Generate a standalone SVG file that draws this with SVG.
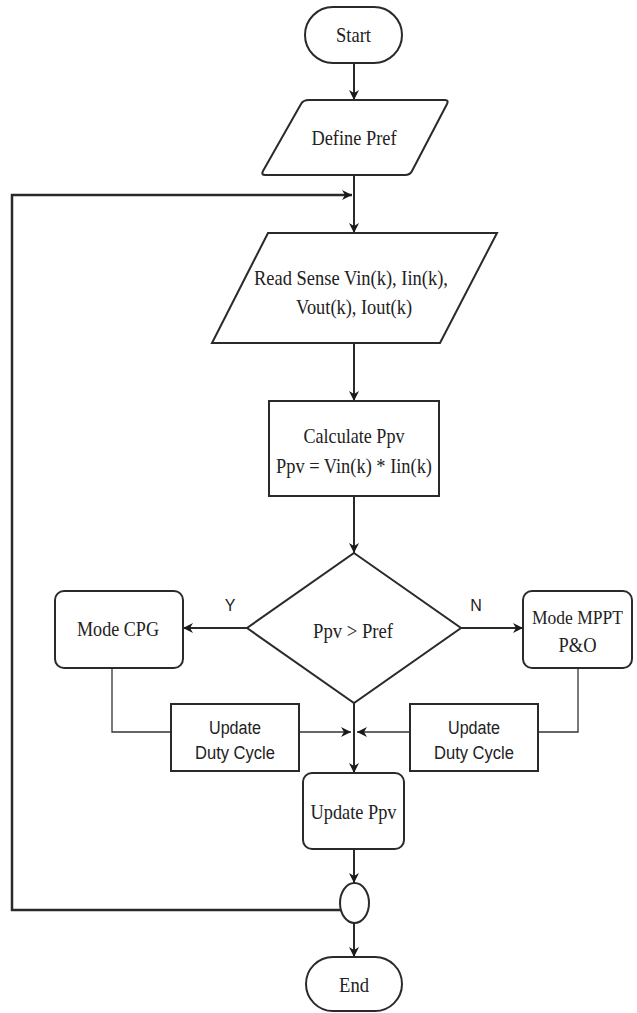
<svg xmlns="http://www.w3.org/2000/svg" width="637" height="1013" viewBox="0 0 637 1013">
<defs>
<marker id="arr" viewBox="0 0 10 10" refX="10" refY="5" markerWidth="10" markerHeight="10" markerUnits="userSpaceOnUse" orient="auto">
<path d="M0,0 L10,5 L0,10 L3,5 z" fill="#1a1a1a"/>
</marker>
<style>
.shape{fill:#fff;stroke:#2a2a2a;stroke-width:2}
.line{fill:none;stroke:#2a2a2a;stroke-width:2}
.thin{fill:none;stroke:#333;stroke-width:1.3}
.serif{font-family:"Liberation Serif","Times New Roman",serif;font-size:21px;fill:#222;text-anchor:middle}
.sans{font-family:"Liberation Sans",Arial,sans-serif;font-size:18px;fill:#222;text-anchor:middle}
.lbl{font-family:"Liberation Sans",Arial,sans-serif;font-size:16px;fill:#222;text-anchor:middle}
</style>
</defs>
<rect width="637" height="1013" fill="#fff"/>

<g id="connectors">
<line class="line" x1="354" y1="63" x2="354" y2="100" marker-end="url(#arr)"/>
<line class="line" x1="354" y1="175" x2="354" y2="233" marker-end="url(#arr)"/>
<polyline class="line" points="341,910 12,910 12,195 352,195" marker-end="url(#arr)" style="stroke-width:2.5"/>
<line class="line" x1="354" y1="343" x2="354" y2="401" marker-end="url(#arr)"/>
<line class="line" x1="354" y1="496" x2="354" y2="553" marker-end="url(#arr)"/>
<line class="line" x1="247" y1="628" x2="183" y2="628" marker-end="url(#arr)"/>
<line class="line" x1="461" y1="628" x2="523" y2="628" marker-end="url(#arr)"/>
<polyline class="thin" points="112,668 112,732 171,732"/>
<line class="thin" x1="299" y1="732" x2="351" y2="732" marker-end="url(#arr)"/>
<polyline class="thin" points="578,668 578,732 538,732"/>
<line class="thin" x1="410" y1="732" x2="357" y2="732" marker-end="url(#arr)"/>
<line class="line" x1="354" y1="703" x2="354" y2="773" marker-end="url(#arr)"/>
<line class="line" x1="354" y1="849" x2="354" y2="883" marker-end="url(#arr)"/>
<line class="line" x1="354" y1="923" x2="354" y2="957" marker-end="url(#arr)"/>
<text class="lbl" x="230" y="611">Y</text>
<text class="lbl" x="476" y="611">N</text>
</g>

<g id="start">
<rect class="shape" x="305" y="7" width="97" height="56" rx="28" ry="28"/>
<text class="serif" x="353.5" y="42" textLength="35" lengthAdjust="spacingAndGlyphs">Start</text>
</g>

<g id="define-pref">
<path class="shape" stroke-linejoin="round" d="M309,100 L445,100 Q449,100 447,104 L412,171 Q410,175 405,175 L265,175 Q261,175 263,171 L301,104 Q303,100 309,100 Z"/>
<text class="serif" x="354" y="145" textLength="85" lengthAdjust="spacingAndGlyphs">Define Pref</text>
</g>

<g id="read-sense">
<polygon class="shape" points="268,233 497,233 440,343 212,343"/>
<text class="serif" x="351" y="285" textLength="194" lengthAdjust="spacingAndGlyphs">Read Sense Vin(k), Iin(k),</text>
<text class="serif" x="354" y="314" textLength="116" lengthAdjust="spacingAndGlyphs">Vout(k), Iout(k)</text>
</g>

<g id="calculate">
<rect class="shape" x="269" y="401" width="170" height="95"/>
<text class="serif" x="354" y="443" textLength="101" lengthAdjust="spacingAndGlyphs">Calculate Ppv</text>
<text class="serif" x="354" y="473" textLength="156" lengthAdjust="spacingAndGlyphs">Ppv = Vin(k) * Iin(k)</text>
</g>

<g id="decision">
<polygon class="shape" points="354,553 461,628 354,703 247,628"/>
<text class="serif" x="353" y="638" textLength="80" lengthAdjust="spacingAndGlyphs">Ppv &gt; Pref</text>
</g>

<g id="mode-cpg">
<rect class="shape" x="55" y="591" width="128" height="77" rx="9" ry="9"/>
<text class="serif" x="118" y="636" textLength="82" lengthAdjust="spacingAndGlyphs">Mode CPG</text>
</g>

<g id="mode-mppt">
<rect class="shape" x="523" y="591" width="109" height="77" rx="9" ry="9"/>
<text class="serif" x="577.5" y="624" style="font-size:19px" textLength="91" lengthAdjust="spacingAndGlyphs">Mode MPPT</text>
<text class="serif" x="577.5" y="652" textLength="38" lengthAdjust="spacingAndGlyphs">P&amp;O</text>
</g>

<g id="update-duty-left">
<rect class="shape" x="171" y="704" width="128" height="67"/>
<text class="sans" x="235" y="734" textLength="52" lengthAdjust="spacingAndGlyphs">Update</text>
<text class="sans" x="235" y="759" textLength="80" lengthAdjust="spacingAndGlyphs">Duty Cycle</text>
</g>

<g id="update-duty-right">
<rect class="shape" x="410" y="704" width="128" height="67"/>
<text class="sans" x="474" y="734" textLength="52" lengthAdjust="spacingAndGlyphs">Update</text>
<text class="sans" x="474" y="759" textLength="80" lengthAdjust="spacingAndGlyphs">Duty Cycle</text>
</g>

<g id="update-ppv">
<rect class="shape" x="303" y="773" width="101" height="76" rx="9" ry="9"/>
<text class="serif" x="353.5" y="819" textLength="86" lengthAdjust="spacingAndGlyphs">Update Ppv</text>
</g>

<g id="connector-circle">
<ellipse class="shape" cx="354.5" cy="903" rx="14.5" ry="20"/>
</g>

<g id="end">
<rect class="shape" x="306" y="957" width="96" height="54" rx="27" ry="27"/>
<text class="serif" x="354" y="992" textLength="30" lengthAdjust="spacingAndGlyphs">End</text>
</g>
</svg>
